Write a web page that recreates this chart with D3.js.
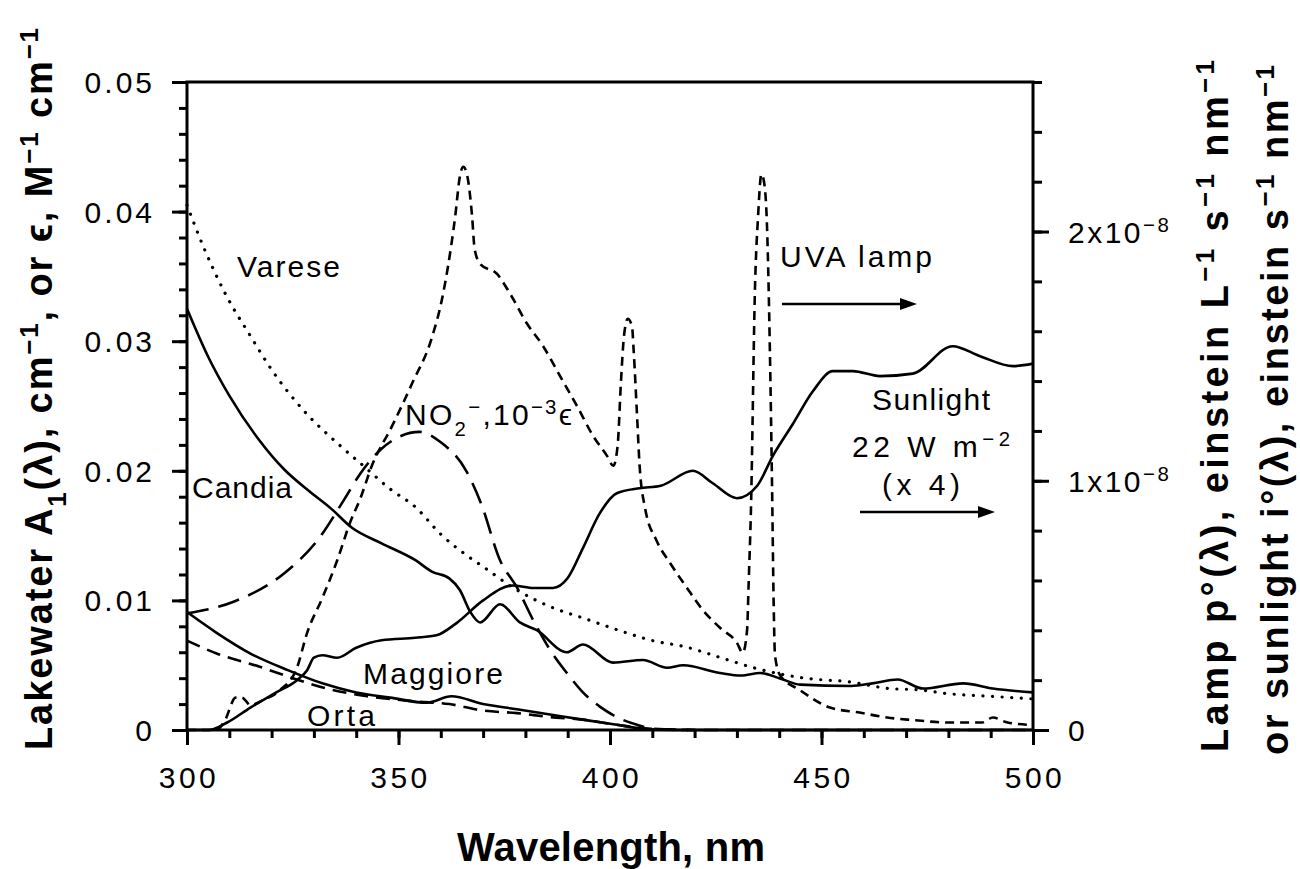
<!DOCTYPE html>
<html>
<head>
<meta charset="utf-8">
<script src="https://cdn.jsdelivr.net/npm/d3@7"></script>
<style>
  html, body { margin: 0; padding: 0; background: #fff; }
  svg { display: block; }
  text { font-family: 'Liberation Sans', Arial, Helvetica, sans-serif; fill: #000; }
</style>
</head>
<body>
<script>
// --- data: [wavelength nm, value] ---
// lake water absorbance (left axis, cm-1)
const varese = [[300,0.0405],[304,0.0372],[309,0.0337],[315,0.0304],[320,0.0278],[328,0.0245],[336,0.0220],
  [342,0.0203],[348,0.0186],[354,0.0172],[360,0.0151],[366,0.0135],[370,0.0126],[378,0.0108],[386,0.0095],
  [394,0.0086],[402,0.0077],[410,0.0069],[418,0.0064],[426,0.0056],[434,0.0048],[446,0.0040],[457,0.0037],
  [466,0.0032],[473,0.0031],[480,0.0028],[490,0.0026],[500,0.0024]];
const candia = [[300,0.0325],[305,0.0288],[310,0.0258],[317,0.0224],[323,0.0201],[329,0.0184],[334,0.0171],
  [339,0.0156],[346,0.0144],[354,0.0131],[358,0.0122],[362,0.0117],[364.5,0.0108],[367,0.0091],[369.3,0.0083],
  [374,0.0097],[378.7,0.0083],[382.7,0.0077],[389.8,0.0060],[393.6,0.0066],[400.7,0.0052],[407.8,0.0054],
  [413.5,0.0048],[417.3,0.0050],[426,0.0044],[431,0.0042],[435.5,0.0044],[440,0.0040],[445,0.0035],
  [457,0.0034],[462,0.0036],[468,0.0039],[474,0.0032],[483.5,0.0036],[490.5,0.0032],[500,0.0029]];
const maggiore = [[300,0.0091],[307,0.0075],[315,0.0059],[324,0.0046],[332,0.0036],[340,0.0029],[348,0.0025],
  [356.7,0.0021],[362.5,0.0026],[370,0.0020],[378,0.0016],[385.8,0.0012],[393.6,0.0008],[401.6,0.0004],
  [408,0.0001],[415,0],[500,0]];
const orta = [[300,0.0069],[307,0.0059],[317,0.0049],[325,0.0040],[333,0.0032],[342.6,0.0026],[354.4,0.0022],
  [362,0.0020],[370,0.0015],[378,0.0013],[385.8,0.0010],[393.6,0.0008],[401.6,0.0004],[409.5,0.0001],
  [420,0],[500,0]];
// nitrite, 10^-3 x molar absorption coefficient (left axis)
const nitrite = [[300,0.0090],[311,0.0099],[323,0.0121],[331,0.0147],[337,0.0177],[341,0.0198],[346,0.0217],
  [350,0.0226],[355,0.0230],[360,0.0222],[366,0.0200],[369.5,0.0175],[374,0.0131],[378,0.0110],[381.8,0.0085],
  [385.8,0.0062],[389.8,0.0044],[393.6,0.0029],[397.6,0.0018],[401.6,0.0010],[406.4,0.0004],[410,0.0001],[420,0]];
// spectra on the right axis, in units of 1e-8
const sunlight = [[300,0],[305,0],[309.5,0.03],[315,0.09],[321,0.15],[326,0.20],[328.4,0.24],[330,0.29],
  [332,0.30],[335.5,0.29],[340,0.33],[346,0.36],[354,0.37],[359,0.38],[363.8,0.43],[370,0.52],[377,0.58],
  [382,0.57],[386.5,0.57],[390,0.61],[393.6,0.73],[397.6,0.87],[401.6,0.95],[407,0.97],[412,0.98],
  [419.6,1.04],[424.3,0.99],[430,0.93],[434.8,0.98],[438.5,1.10],[443.3,1.23],[448,1.36],[452.7,1.44],
  [457.4,1.44],[463.8,1.42],[471.6,1.43],[481,1.54],[487.5,1.50],[495.3,1.46],[500,1.47]];
const uvaLamp = [[300,0],[307,0],[309,0.04],[311.5,0.13],[313,0.13],[315,0.10],[318,0.12],[322,0.16],
  [326,0.25],[328.4,0.39],[332,0.53],[335.5,0.68],[338.5,0.83],[341,0.93],[343.7,1.06],[348.5,1.22],
  [353.2,1.39],[358,1.58],[360.3,1.73],[361.7,1.86],[363.4,2.06],[364.5,2.22],[365.3,2.26],[366.3,2.22],
  [367.4,2.06],[368,1.93],[369.3,1.87],[373.3,1.83],[376.4,1.75],[380.4,1.63],[384.2,1.54],[388.2,1.42],
  [392.2,1.30],[396,1.18],[399.3,1.10],[400.8,1.06],[401.8,1.14],[402.6,1.40],[403.3,1.58],[404.2,1.65],
  [405.2,1.62],[405.6,1.52],[406.4,1.26],[407,1.06],[408.3,0.89],[411,0.76],[414.2,0.67],[418.2,0.57],
  [422,0.48],[426,0.41],[430,0.35],[431.4,0.31],[432.4,0.40],[432.8,0.60],[433.3,0.87],[434.3,1.79],
  [435,2.06],[435.8,2.23],[436.4,2.20],[437.1,2.03],[437.8,1.52],[438.3,0.99],[438.7,0.50],[439,0.30],
  [440.2,0.22],[444.9,0.16],[452,0.09],[459,0.07],[465.5,0.05],[471.6,0.04],[480,0.03],[488,0.03],
  [490.5,0.05],[494,0.03],[500,0.02]];

// ticks
const xMajor = [300, 350, 400, 450, 500];
const xMinor = d3.range(300, 501, 10);
const yLeftMajor = [0, 0.01, 0.02, 0.03, 0.04, 0.05];
const yLeftMinor = d3.range(0, 0.0501, 0.002);
const yRightMajor = [0, 1, 2];
const yRightMinor = d3.range(0, 2.61, 0.2);

const W = 1300, H = 869;
const m = { left: 187, right: 1033, top: 82, bottom: 730 };

const svg = d3.select('body').append('svg').attr('width', W).attr('height', H);

const x = d3.scaleLinear().domain([300, 500]).range([m.left, m.right]);
const yL = d3.scaleLinear().domain([0, 0.05]).range([m.bottom, m.top]);
const yR = d3.scaleLinear().domain([0, 2.6]).range([m.bottom, m.top]);

// helper for text with sub/superscripts: parts = [[str, 'sup'|'sub'|undefined], ...]
function rich(parent, parts) {
    const t = parent.append('text');
    parts.forEach(p => {
        const s = t.append('tspan').text(p[0]);
        if (p[1] === 'sup') s.attr('baseline-shift', 'super').attr('font-size', '68%');
        if (p[1] === 'sub') s.attr('baseline-shift', 'sub').attr('font-size', '68%');
    });
    return t;
}

// Curves
const lineL = d3.line().x(d => x(d[0])).y(d => yL(d[1])).curve(d3.curveMonotoneX);
const lineR = d3.line().x(d => x(d[0])).y(d => yR(d[1])).curve(d3.curveMonotoneX);

const curves = [
    { data: varese, gen: lineL, dash: '0.1 9.5', w: 3.2, cap: 'round' },
    { data: candia, gen: lineL, dash: null, w: 2.6 },
    { data: maggiore, gen: lineL, dash: null, w: 2.6 },
    { data: orta, gen: lineL, dash: '14 8', w: 2.6 },
    { data: nitrite, gen: lineL, dash: '22 10', w: 2.6 },
    { data: sunlight, gen: lineR, dash: null, w: 2.6 },
    { data: uvaLamp, gen: lineR, dash: '9 6', w: 2.6 }
];

const gCurves = svg.append('g');
curves.forEach(c => {
    gCurves.append('path')
        .datum(c.data)
        .attr('fill', 'none')
        .attr('stroke', '#000')
        .attr('stroke-width', c.w)
        .attr('stroke-linecap', c.cap || 'butt')
        .attr('stroke-linejoin', 'round')
        .attr('stroke-dasharray', c.dash)
        .attr('d', c.gen);
});

// Frame
svg.append('rect')
    .attr('x', m.left).attr('y', m.top)
    .attr('width', m.right - m.left).attr('height', m.bottom - m.top)
    .attr('fill', 'none').attr('stroke', '#000').attr('stroke-width', 3);

// Axes (ticks only, labels drawn separately)
function ticks(axis, values, size, transform) {
    const g = svg.append('g')
        .attr('transform', transform)
        .call(axis.tickValues(values).tickSize(size).tickSizeOuter(0).tickFormat(''));
    g.select('.domain').remove();
    g.selectAll('line').attr('stroke', '#000').attr('stroke-width', 3);
    return g;
}
ticks(d3.axisLeft(yL), yLeftMinor, 8, `translate(${m.left},0)`);
ticks(d3.axisLeft(yL), yLeftMajor, 15, `translate(${m.left},0)`);
ticks(d3.axisBottom(x), xMinor, 8, `translate(0,${m.bottom})`);
ticks(d3.axisBottom(x), xMajor, 15, `translate(0,${m.bottom})`);
ticks(d3.axisRight(yR), yRightMinor, 9, `translate(${m.right},0)`);
ticks(d3.axisRight(yR), yRightMajor, 16, `translate(${m.right},0)`);

// Tick labels
const tickFont = 30;
svg.append('g').selectAll('text')
    .data(yLeftMajor).enter().append('text')
    .attr('x', 155).attr('y', d => yL(d) + 11)
    .attr('text-anchor', 'end')
    .style('font-size', tickFont + 'px').style('letter-spacing', '3px')
    .text(d => d === 0 ? '0' : d3.format('.2f')(d));

svg.append('g').selectAll('text')
    .data(xMajor).enter().append('text')
    .attr('x', d => x(d) + 2).attr('y', 788)
    .attr('text-anchor', 'middle')
    .style('font-size', tickFont + 'px').style('letter-spacing', '3.5px')
    .text(d => d);

const gRight = svg.append('g');
yRightMajor.forEach(v => {
    const parts = v === 0 ? [['0']] : [[v + 'x10'], ['\u22128', 'sup']];
    rich(gRight, parts)
        .attr('x', 1068).attr('y', yR(v) + 11)
        .style('font-size', tickFont + 'px').style('letter-spacing', '2.5px');
});

// Axis titles
const titleFont = 38;
rich(svg, [['Lakewater A'], ['1', 'sub'], ['(\u03bb), cm'], ['\u22121', 'sup'], [', or \u03f5, M'], ['\u22121', 'sup'], [' cm'], ['\u22121', 'sup']])
    .attr('transform', 'translate(52,389) rotate(-90)')
    .attr('text-anchor', 'middle')
    .attr('textLength', 722).attr('lengthAdjust', 'spacing')
    .style('font-size', titleFont + 'px').style('font-weight', 'bold');

rich(svg, [['Lamp p\u00b0(\u03bb), einstein L'], ['\u22121', 'sup'], [' s'], ['\u22121', 'sup'], [' nm'], ['\u22121', 'sup']])
    .attr('transform', 'translate(1228,406) rotate(-90)')
    .attr('text-anchor', 'middle')
    .attr('textLength', 692).attr('lengthAdjust', 'spacing')
    .style('font-size', titleFont + 'px').style('font-weight', 'bold');

rich(svg, [['or sunlight i\u00b0(\u03bb), einstein s'], ['\u22121', 'sup'], [' nm'], ['\u22121', 'sup']])
    .attr('transform', 'translate(1288,410) rotate(-90)')
    .attr('text-anchor', 'middle')
    .attr('textLength', 690).attr('lengthAdjust', 'spacing')
    .style('font-size', titleFont + 'px').style('font-weight', 'bold');

svg.append('text')
    .attr('x', 611).attr('y', 861)
    .attr('text-anchor', 'middle')
    .attr('textLength', 308).attr('lengthAdjust', 'spacing')
    .style('font-size', '40px').style('font-weight', 'bold')
    .text('Wavelength, nm');

// Curve labels
const labelFont = 30;
const labels = [
    { parts: [['Varese']], x: 237, y: 277, len: 103 },
    { parts: [['Candia']], x: 192, y: 498, len: 100 },
    { parts: [['NO'], ['2', 'sub'], ['\u2212', 'sup'], [',10'], ['\u22123', 'sup'], ['\u03f5']], x: 405, y: 425, len: 167 },
    { parts: [['UVA lamp']], x: 780, y: 267, len: 152 },
    { parts: [['Sunlight']], x: 872, y: 410, len: 118 },
    { parts: [['22 W m'], ['\u22122', 'sup']], x: 852, y: 457, len: 158 },
    { parts: [['(x 4)']], x: 882, y: 495, len: 78 },
    { parts: [['Maggiore']], x: 363, y: 684, len: 140 },
    { parts: [['Orta']], x: 307, y: 726, len: 68 }
];
labels.forEach(l => {
    rich(svg, l.parts)
        .attr('x', l.x).attr('y', l.y)
        .attr('textLength', l.len).attr('lengthAdjust', 'spacing')
        .style('font-size', labelFont + 'px');
});

// Arrows pointing to the right axis
function arrow(x1, x2, y) {
    svg.append('line')
        .attr('x1', x1).attr('x2', x2 - 14).attr('y1', y).attr('y2', y)
        .attr('stroke', '#000').attr('stroke-width', 2.6);
    svg.append('path')
        .attr('d', `M${x2},${y} L${x2 - 17},${y - 6} L${x2 - 17},${y + 6} Z`)
        .attr('fill', '#000');
}
arrow(782, 917, 304);
arrow(860, 995, 512);
</script>
</body>
</html>
